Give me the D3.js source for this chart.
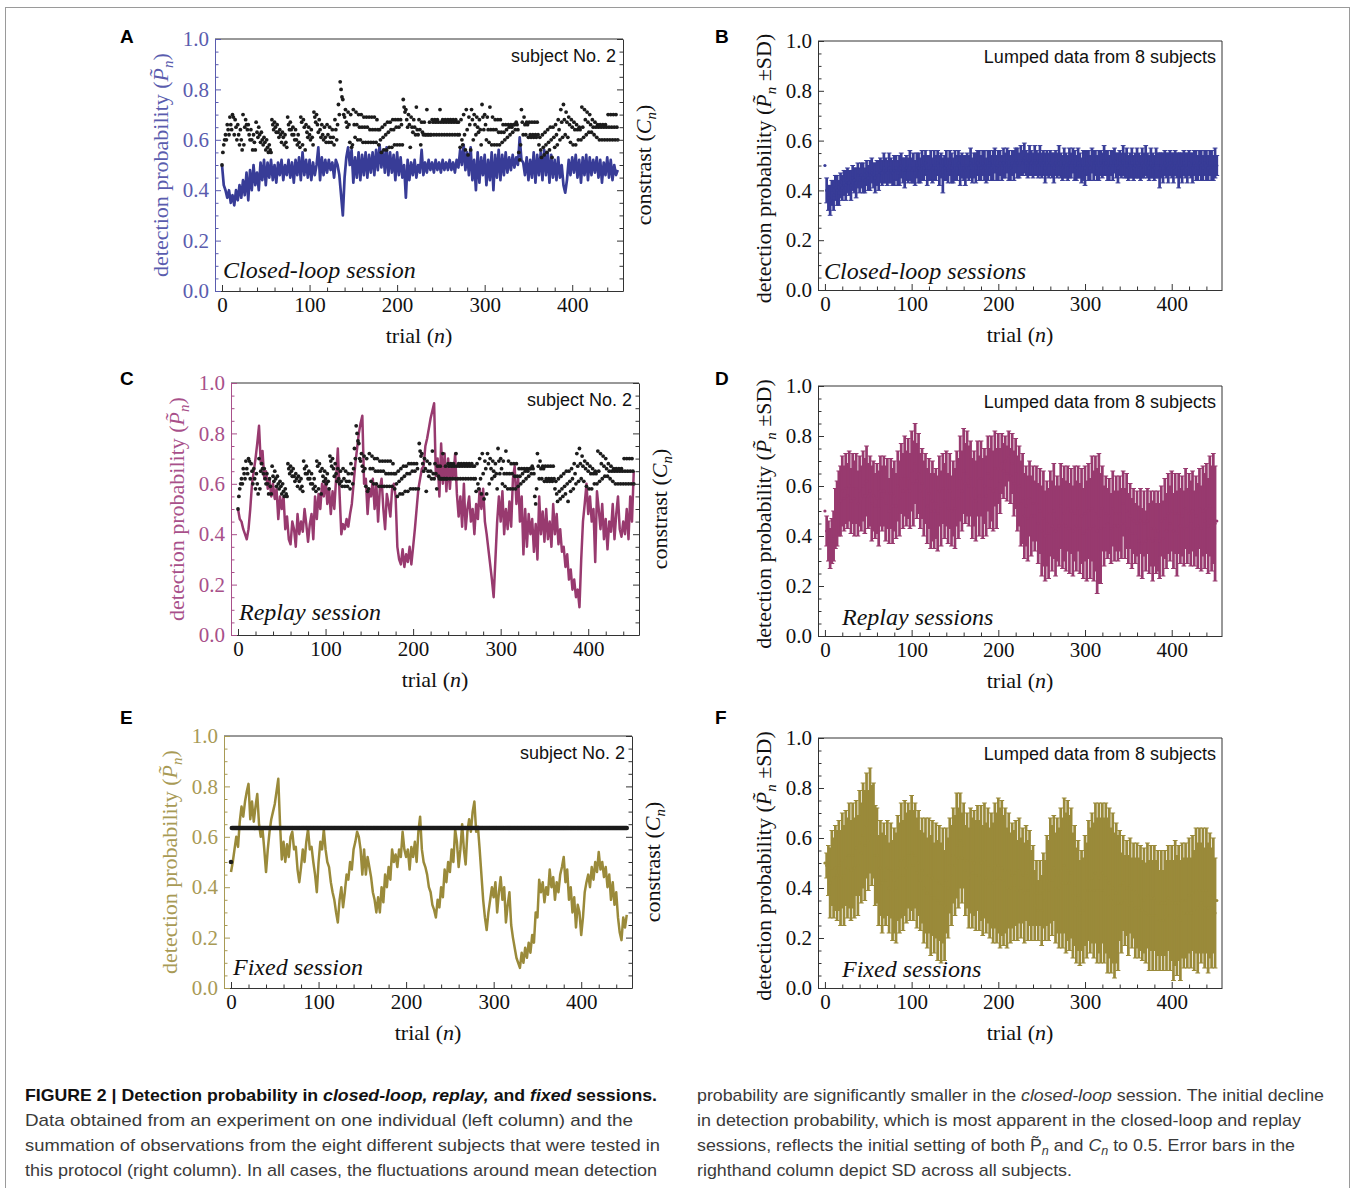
<!DOCTYPE html>
<html><head><meta charset="utf-8">
<script src="https://cdn.jsdelivr.net/npm/d3@7"></script>
<style>
body{margin:0;background:#fff;}
svg{display:block;font-family:"Liberation Serif",serif;}
</style></head><body>
<script>
// ---------------- DATA ----------------
const trialTicks = [0, 100, 200, 300, 400];
const probTicks = [0, 0.2, 0.4, 0.6, 0.8, 1.0];
const trialDomain = [-8, 458];
const nTrials = 452;
const sampledTrials = d3.range(0, nTrials + 1, 2); // series below are read every 2nd trial

// A: closed-loop session, subject No. 2 (detection probability)
const closedLoopSubject = [
.50,.42,.40,.37,.40,.35,.38,.34,.40,.36, .42,.37,.44,.38,.47,.36,.48,.40,.50,.42,
.47,.40,.51,.44,.52,.42,.51,.45,.52,.44, .50,.43,.51,.46,.52,.44,.50,.46,.52,.45,
.51,.43,.52,.46,.53,.44,.55,.46,.52,.45, .52,.44,.51,.46,.50,.57,.44,.53,.46,.52,
.47,.52,.48,.51,.45,.52,.50,.46,.38,.30, .45,.53,.57,.50,.56,.43,.53,.45,.55,.44,
.54,.46,.55,.45,.54,.47,.55,.46,.56,.48, .58,.49,.56,.47,.57,.46,.55,.47,.54,.44,
.55,.46,.53,.45,.50,.37,.52,.44,.51,.46, .52,.45,.50,.47,.56,.46,.51,.47,.52,.48,
.51,.47,.52,.48,.51,.47,.52,.48,.51,.48, .52,.48,.51,.47,.52,.49,.56,.50,.58,.48,
.55,.46,.57,.44,.52,.40,.55,.43,.53,.46, .54,.42,.52,.44,.55,.40,.54,.45,.56,.44,
.54,.46,.55,.47,.53,.48,.54,.49,.53,.50, .61,.52,.51,.46,.53,.44,.52,.45,.55,.43,
.54,.46,.55,.44,.56,.46,.55,.43,.54,.45, .52,.44,.53,.45,.50,.42,.39,.44,.52,.46,
.53,.47,.54,.45,.52,.43,.53,.46,.54,.44, .53,.46,.52,.47,.53,.45,.52,.43,.51,.46,
.53,.45,.52,.44,.50,.46,.48];

// contrast C_n (same sequence in closed-loop and replay), three interleaved tracks: trials 3i, 3i+1, 3i+2
const contrastTrack0 = [
.50,.60,.66,.69,.70,.68,.66,.64,.70,.68, .66,.64,.62,.67,.65,.63,.61,.60,.58,.68,
.67,.66,.64,.63,.62,.69,.67,.65,.64,.62, .69,.68,.66,.65,.64,.71,.70,.68,.66,.65,
.66,.65,.64,.68,.66,.83,.76,.72,.71,.70, .72,.71,.70,.70,.69,.69,.69,.69,.69,.68,
.64,.65,.66,.67,.67,.68,.68,.68,.68,.76, .72,.70,.69,.68,.73,.68,.67,.67,.72,.67,
.68,.68,.68,.72,.68,.68,.68,.68,.68,.68, .67,.68,.70,.72,.69,.72,.70,.69,.68,.74,
.70,.69,.73,.69,.68,.68,.68,.66,.66,.66, .66,.66,.67,.55,.72,.69,.67,.67,.67,.67,
.67,.61,.62,.63,.64,.65,.65,.66,.68,.72, .74,.71,.69,.68,.67,.66,.65,.73,.72,.71,
.70,.68,.67,.66,.66,.66,.66,.70,.70,.70, .70];
const contrastTrack1 = [
.55,.62,.64,.66,.69,.65,.62,.60,.58,.66, .62,.60,.59,.63,.62,.60,.59,.57,.56,.66,
.65,.63,.62,.61,.59,.66,.64,.62,.60,.59, .67,.65,.63,.62,.61,.69,.66,.64,.62,.61,
.62,.61,.61,.64,.74,.80,.70,.67,.66,.57, .66,.66,.65,.65,.65,.65,.64,.64,.64,.64,
.60,.61,.62,.63,.64,.64,.65,.65,.66,.73, .68,.66,.65,.65,.64,.64,.63,.62,.62,.62,
.67,.67,.67,.67,.67,.67,.67,.67,.67,.67, .62,.60,.62,.64,.66,.68,.66,.65,.64,.69,
.66,.64,.64,.64,.64,.63,.63,.63,.64,.65, .65,.66,.66,.52,.67,.66,.66,.62,.62,.62,
.62,.56,.57,.58,.59,.60,.61,.62,.64,.67, .68,.67,.66,.65,.64,.64,.64,.65,.68,.67,
.66,.65,.65,.65,.65,.65,.65,.65,.65,.65, .65];
const contrastTrack2 = [
.58,.60,.62,.64,.62,.60,.58,.56,.65,.64, .60,.56,.56,.61,.59,.58,.56,.55,.55,.64,
.63,.61,.59,.58,.57,.64,.62,.60,.58,.57, .58,.56,.61,.60,.58,.67,.63,.61,.60,.59,
.59,.59,.58,.60,.70,.77,.69,.65,.59,.58, .61,.60,.60,.59,.59,.59,.59,.59,.59,.58,
.55,.56,.56,.57,.57,.58,.58,.58,.58,.71, .65,.57,.63,.62,.62,.58,.62,.62,.62,.62,
.62,.62,.62,.62,.62,.62,.62,.62,.62,.62, .57,.58,.56,.54,.56,.60,.62,.63,.58,.64,
.60,.59,.58,.58,.58,.58,.59,.60,.61,.62, .63,.64,.64,.58,.62,.62,.61,.61,.61,.61,
.58,.53,.54,.55,.56,.53,.57,.58,.60,.61, .62,.61,.59,.58,.58,.60,.60,.61,.62,.63,
.63,.62,.61,.60,.60,.60,.60,.60,.60,.60, .60];

// C: replay session, subject No. 2
const replaySubject = [
.50,.46,.45,.42,.40,.38,.42,.50,.60,.65, .70,.76,.83,.68,.73,.62,.65,.58,.62,.55,
.60,.54,.58,.46,.55,.50,.55,.42,.47,.38, .36,.45,.42,.35,.48,.40,.45,.41,.50,.44,
.37,.44,.48,.38,.55,.46,.56,.50,.60,.55, .62,.52,.58,.48,.57,.50,.62,.74,.56,.40,
.44,.42,.46,.43,.48,.52,.60,.68,.74,.80, .84,.87,.60,.62,.48,.58,.55,.62,.50,.60,
.45,.58,.62,.50,.42,.56,.52,.47,.58,.60, .55,.35,.30,.28,.34,.27,.32,.29,.35,.28,
.35,.42,.50,.58,.62,.66,.67,.75,.78,.82, .86,.89,.92,.63,.70,.55,.76,.60,.72,.57,
.70,.58,.68,.62,.72,.56,.47,.55,.43,.60, .42,.50,.55,.45,.50,.40,.52,.46,.58,.50,
.58,.45,.40,.34,.28,.22,.15,.30,.45,.55, .45,.57,.40,.50,.42,.53,.43,.62,.67,.52,
.62,.45,.55,.32,.50,.35,.48,.40,.46,.33, .44,.30,.55,.40,.49,.37,.50,.38,.45,.35,
.52,.40,.48,.36,.42,.33,.35,.27,.32,.22, .26,.18,.22,.15,.18,.11,.30,.45,.52,.60,
.48,.55,.45,.50,.29,.57,.50,.42,.52,.38, .46,.34,.45,.41,.52,.38,.48,.55,.42,.39,
.45,.40,.50,.38,.55,.45,.65];

// E: fixed session, subject No. 2
const fixedSubject = [
.46,.50,.55,.60,.56,.66,.72,.68,.74,.78, .81,.67,.74,.66,.72,.77,.65,.60,.63,.55,
.46,.55,.62,.67,.70,.73,.78,.83,.65,.51, .58,.50,.57,.52,.60,.62,.55,.56,.47,.42,
.48,.55,.50,.58,.63,.55,.56,.50,.45,.38, .50,.58,.55,.63,.55,.50,.48,.42,.38,.35,
.30,.26,.35,.40,.32,.38,.45,.43,.50,.47, .55,.58,.62,.60,.55,.45,.55,.45,.52,.48,
.44,.38,.35,.30,.36,.30,.40,.34,.45,.40, .48,.43,.55,.50,.53,.48,.55,.52,.62,.55,
.52,.55,.47,.56,.52,.58,.50,.62,.68,.55, .50,.48,.45,.40,.38,.33,.31,.28,.35,.32,
.40,.36,.47,.42,.50,.46,.55,.50,.63,.58, .48,.55,.65,.55,.49,.62,.67,.62,.70,.74,
.62,.64,.55,.45,.35,.28,.23,.30,.35,.40, .36,.42,.30,.38,.44,.35,.40,.26,.33,.38,
.25,.20,.16,.12,.10,.08,.14,.10,.16,.12, .18,.14,.21,.18,.30,.28,.43,.38,.42,.34,
.40,.37,.47,.40,.44,.35,.42,.38,.45,.48, .52,.42,.47,.35,.40,.30,.36,.24,.33,.30,
.21,.28,.38,.42,.45,.40,.48,.43,.50,.46, .54,.47,.50,.44,.48,.40,.45,.35,.42,.33,
.38,.28,.22,.19,.28,.24,.29];
const fixedContrastLevel = 0.635;
const initialContrast = 0.5;

// B: closed-loop sessions, lumped 8 subjects (mean, SD)
const closedLoopMean = [
.50,.40,.37,.36,.39,.38,.41,.40,.39,.42, .41,.43,.42,.44,.43,.42,.45,.44,.43,.46,
.44,.46,.45,.44,.47,.45,.46,.48,.46,.45, .47,.46,.48,.47,.49,.48,.47,.49,.48,.47,
.48,.49,.47,.48,.50,.48,.47,.49,.48,.50, .48,.49,.47,.50,.49,.48,.50,.49,.51,.48,
.49,.50,.48,.50,.49,.51,.48,.50,.46,.49, .50,.48,.51,.49,.48,.50,.49,.51,.48,.50,
.49,.48,.50,.49,.51,.48,.50,.49,.51,.50, .49,.51,.50,.48,.50,.51,.49,.50,.52,.49,
.50,.51,.49,.51,.50,.52,.50,.49,.51,.50, .52,.51,.50,.52,.51,.53,.51,.50,.52,.51,
.50,.52,.51,.50,.52,.50,.51,.49,.51,.50, .51,.50,.49,.51,.50,.52,.50,.49,.51,.50,
.49,.51,.50,.52,.50,.49,.51,.50,.48,.50, .49,.51,.50,.49,.52,.50,.51,.49,.50,.51,
.50,.52,.51,.50,.49,.51,.50,.52,.50,.49, .51,.50,.52,.50,.51,.49,.50,.51,.49,.50,
.51,.50,.49,.51,.50,.52,.50,.49,.51,.50, .49,.51,.50,.48,.50,.49,.51,.50,.49,.51,
.50,.49,.51,.50,.48,.50,.49,.51,.50,.49, .51,.50,.49,.51,.50,.49,.51,.50,.49,.51,
.50,.49,.51,.50,.49,.51,.50];
const closedLoopSD = [
0,.05,.05,.06,.05,.06,.05,.06,.05,.05, .05,.05,.06,.05,.05,.06,.05,.05,.06,.05,
.05,.05,.06,.05,.05,.05,.06,.05,.05,.06, .05,.06,.05,.05,.06,.05,.05,.06,.05,.05,
.06,.05,.05,.06,.05,.05,.06,.05,.05,.06, .05,.06,.05,.05,.06,.05,.06,.05,.05,.06,
.05,.06,.05,.06,.05,.05,.06,.05,.07,.05, .06,.05,.05,.06,.05,.06,.05,.05,.06,.05,
.05,.06,.05,.05,.06,.05,.05,.06,.05,.06, .05,.05,.06,.05,.06,.05,.05,.06,.05,.05,
.06,.05,.05,.06,.05,.05,.06,.05,.05,.06, .05,.06,.05,.06,.05,.06,.05,.05,.06,.05,
.05,.06,.05,.05,.06,.05,.05,.06,.05,.05, .05,.05,.06,.05,.05,.06,.05,.05,.06,.05,
.05,.06,.05,.05,.06,.05,.06,.05,.05,.06, .07,.05,.06,.05,.05,.06,.05,.05,.06,.05,
.05,.06,.05,.06,.05,.05,.06,.05,.05,.06, .05,.05,.06,.05,.06,.05,.05,.06,.05,.05,
.06,.05,.05,.06,.05,.06,.05,.05,.06,.05, .05,.06,.05,.07,.05,.06,.05,.05,.06,.05,
.05,.06,.05,.05,.07,.05,.06,.05,.05,.06, .05,.05,.06,.05,.06,.05,.05,.06,.05,.05,
.06,.05,.05,.06,.05,.06,.04];

// D: replay sessions, lumped 8 subjects (mean, SD)
const replayMean = [
.50,.42,.38,.35,.38,.40,.47,.49,.53,.54, .58,.55,.59,.56,.60,.54,.59,.55,.59,.53,
.58,.55,.60,.56,.62,.56,.58,.53,.56,.52, .55,.51,.58,.55,.58,.53,.57,.50,.57,.52,
.56,.52,.60,.55,.63,.58,.64,.59,.63,.58, .66,.61,.69,.62,.65,.58,.61,.55,.59,.52,
.57,.50,.54,.50,.53,.49,.58,.51,.59,.54, .59,.51,.58,.50,.55,.51,.59,.55,.63,.58,
.66,.61,.65,.60,.63,.55,.59,.54,.63,.56, .63,.55,.60,.56,.65,.59,.63,.58,.67,.59,
.67,.62,.69,.66,.70,.65,.72,.64,.69,.61, .65,.57,.60,.53,.55,.48,.52,.47,.55,.48,
.53,.48,.53,.45,.50,.42,.47,.40,.45,.41, .49,.44,.50,.42,.47,.44,.52,.45,.49,.44,
.51,.43,.50,.42,.49,.44,.51,.43,.48,.41, .49,.42,.50,.43,.51,.44,.49,.42,.47,.43,
.51,.44,.49,.45,.48,.43,.51,.44,.49,.44, .49,.45,.53,.45,.50,.43,.48,.41,.46,.41,
.45,.38,.46,.37,.45,.38,.46,.39,.43,.38, .43,.39,.42,.38,.46,.39,.47,.42,.49,.45,
.50,.42,.49,.41,.49,.44,.48,.43,.51,.44, .49,.45,.50,.43,.48,.44,.51,.43,.50,.46,
.51,.44,.52,.47,.51,.45,.46];
const replaySD = [
0,.06,.08,.08,.09,.10,.12,.13,.13,.14, .14,.13,.14,.13,.14,.13,.14,.15,.14,.13,
.14,.13,.14,.15,.14,.13,.14,.15,.14,.13, .14,.15,.14,.13,.14,.15,.14,.13,.14,.15,
.14,.13,.14,.15,.14,.15,.16,.15,.16,.15, .16,.17,.16,.15,.16,.15,.14,.15,.14,.15,
.14,.15,.16,.15,.14,.15,.14,.15,.14,.15, .15,.14,.15,.14,.15,.16,.15,.16,.17,.16,
.17,.16,.17,.16,.15,.16,.15,.16,.15,.16, .15,.16,.15,.16,.15,.16,.17,.16,.15,.16,
.14,.13,.12,.11,.10,.11,.10,.11,.12,.13, .14,.15,.16,.17,.18,.17,.16,.17,.15,.16,
.15,.14,.15,.16,.17,.18,.19,.18,.17,.18, .17,.18,.19,.18,.17,.16,.17,.18,.19,.18,
.17,.18,.17,.18,.19,.18,.17,.18,.19,.18, .19,.20,.19,.20,.21,.22,.23,.25,.26,.22,
.17,.16,.15,.14,.15,.14,.15,.14,.15,.14, .15,.14,.13,.14,.15,.14,.13,.14,.13,.12,
.13,.14,.13,.14,.13,.12,.13,.14,.15,.16, .15,.14,.16,.15,.14,.15,.16,.15,.16,.15,
.16,.15,.16,.17,.16,.15,.16,.15,.16,.15, .16,.17,.16,.15,.16,.17,.16,.17,.18,.19,
.18,.19,.20,.21,.22,.23,0];

// F: fixed sessions, lumped 8 subjects (mean, SD)
const fixedMean = [
.50,.49,.47,.42,.48,.44,.48,.45,.49,.44, .51,.45,.52,.48,.53,.47,.53,.48,.56,.49,
.58,.54,.61,.57,.65,.59,.67,.61,.63,.53, .53,.43,.48,.42,.47,.43,.48,.40,.47,.39,
.43,.40,.48,.44,.51,.45,.52,.48,.53,.49, .54,.49,.53,.46,.50,.43,.47,.40,.45,.38,
.45,.37,.44,.36,.43,.35,.42,.34,.41,.33, .43,.40,.49,.45,.53,.49,.57,.52,.59,.52,
.57,.47,.51,.44,.51,.46,.50,.45,.52,.45, .50,.43,.51,.44,.49,.42,.47,.42,.49,.44,
.49,.44,.48,.43,.47,.40,.47,.40,.45,.41, .46,.39,.47,.40,.45,.38,.46,.39,.44,.37,
.41,.33,.38,.31,.38,.31,.39,.35,.43,.39, .47,.43,.48,.40,.45,.40,.47,.42,.49,.42,
.47,.42,.46,.37,.41,.33,.37,.30,.35,.31, .39,.35,.43,.39,.44,.39,.46,.39,.44,.39,
.46,.39,.44,.37,.42,.35,.40,.33,.38,.34, .41,.34,.42,.35,.40,.33,.41,.34,.39,.32,
.37,.32,.36,.31,.35,.30,.37,.29,.36,.29, .36,.29,.34,.27,.34,.27,.34,.29,.36,.29,
.34,.27,.34,.29,.34,.27,.35,.30,.35,.30, .37,.30,.38,.31,.39,.32,.39,.34,.39,.32,
.39,.32,.37,.32,.37,.30,.35];
const fixedSD = [
0,.05,.10,.14,.15,.16,.17,.18,.18,.19, .19,.20,.19,.20,.21,.20,.21,.20,.19,.20,
.21,.20,.21,.22,.21,.20,.21,.20,.19,.20, .19,.18,.19,.20,.19,.18,.19,.18,.19,.20,
.21,.22,.21,.22,.23,.22,.23,.22,.21,.22, .23,.22,.21,.22,.21,.20,.21,.22,.23,.22,
.23,.24,.23,.22,.23,.24,.23,.24,.23,.22, .21,.20,.19,.20,.19,.20,.21,.20,.19,.18,
.17,.18,.19,.20,.21,.22,.21,.22,.21,.22, .23,.22,.23,.22,.23,.22,.23,.24,.25,.26,
.27,.28,.27,.26,.25,.24,.23,.22,.21,.22, .21,.20,.21,.20,.19,.20,.19,.20,.19,.18,
.16,.14,.13,.12,.13,.14,.15,.16,.18,.20, .21,.22,.21,.22,.23,.24,.25,.26,.27,.28,
.28,.27,.26,.25,.24,.23,.22,.21,.20,.21, .22,.23,.24,.25,.26,.27,.28,.29,.30,.29,
.28,.29,.30,.31,.30,.29,.30,.29,.28,.27, .22,.20,.19,.18,.19,.20,.19,.18,.19,.20,
.21,.20,.21,.20,.21,.20,.21,.22,.21,.22, .21,.22,.21,.20,.21,.20,.21,.22,.21,.22,
.23,.24,.25,.24,.23,.24,.23,.22,.23,.22, .23,.22,.23,.24,.25,.26,.25,.24,.25,.24,
.25,.26,.25,.24,.23,.22,0];

// ---------------- RENDER ----------------
const W = 1354, H = 1188;
const svg = d3.select('body').append('svg').attr('width', W).attr('height', H);
svg.append('rect').attr('x', 5.5).attr('y', 7.5).attr('width', 1344).attr('height', 1200)
  .attr('fill', 'none').attr('stroke', '#9a9a9a').attr('stroke-width', 1);

const INK = '#333';
const trialMinorTicks = d3.range(20, 460, 20).filter(v => v % 100 !== 0);
const probMinorTicks = d3.range(1, 20).map(v => v / 20).filter((v, i) => (i + 1) % 4 !== 0);

const palette = {
  blue:    {line: '#383c97', text: '#5a5cae'},
  magenta: {line: '#983a6f', text: '#a8508a'},
  olive:   {line: '#9a8a3a', text: '#a89a55'}
};

const panels = [
  {id: 'A', left: 215, top: 39, width: 408, height: 252, kind: 'subject', col: 'blue', series: closedLoopSubject, contrast: 'tracks', session: 'Closed-loop session', sessDx: 8, sessDy: -13},
  {id: 'B', left: 818, top: 41, width: 404, height: 249, kind: 'lumped', col: 'blue', mean: closedLoopMean, sd: closedLoopSD, session: 'Closed-loop sessions', sessDx: 6, sessDy: -11},
  {id: 'C', left: 231, top: 383, width: 408, height: 252, kind: 'subject', col: 'magenta', series: replaySubject, contrast: 'tracks', session: 'Replay session', sessDx: 8, sessDy: -15},
  {id: 'D', left: 818, top: 386, width: 404, height: 250, kind: 'lumped', col: 'magenta', mean: replayMean, sd: replaySD, session: 'Replay sessions', sessDx: 24, sessDy: -11},
  {id: 'E', left: 224, top: 736, width: 408, height: 252, kind: 'subject', col: 'olive', series: fixedSubject, contrast: 'fixed', session: 'Fixed session', sessDx: 9, sessDy: -13},
  {id: 'F', left: 818, top: 738, width: 404, height: 250, kind: 'lumped', col: 'olive', mean: fixedMean, sd: fixedSD, session: 'Fixed sessions', sessDx: 24, sessDy: -11}
];

function styleAxis(sel, color, fontSize) {
  sel.attr('font-family', '"Liberation Serif", serif').attr('font-size', fontSize);
  sel.selectAll('path,line').attr('stroke', color).attr('stroke-width', 1);
  sel.selectAll('text').attr('fill', color);
}

function probLabel(t, withSD) {
  t.append('tspan').text('detection probability (');
  t.append('tspan').attr('font-style', 'italic').text('P\u0303');
  t.append('tspan').attr('font-style', 'italic').attr('font-size', 15).attr('dy', 5).text('n');
  t.append('tspan').attr('dy', -5).text(withSD ? ' \u00B1SD)' : ')');
}

panels.forEach(p => {
  const g = svg.append('g');
  const bottom = p.top + p.height, right = p.left + p.width;
  const x = d3.scaleLinear().domain(trialDomain).range([p.left, right]);
  const y = d3.scaleLinear().domain([0, 1]).range([bottom, p.top]);
  const pal = palette[p.col];
  const leftColor = p.kind === 'subject' ? pal.text : INK;

  // ---- data marks ----
  if (p.kind === 'subject') {
    const line = d3.line().x((d, i) => x(sampledTrials[i])).y(d => y(d));
    g.append('path').datum(p.series).attr('d', line).attr('fill', 'none')
      .attr('stroke', pal.line).attr('stroke-width', p.id === 'A' ? 2.7 : 2.5)
      .attr('stroke-linejoin', 'round');
    let dots;
    if (p.contrast === 'tracks') {
      dots = [];
      [contrastTrack0, contrastTrack1, contrastTrack2].forEach((tr, k) =>
        tr.forEach((v, i) => dots.push({t: 3 * i + k, v})));
    } else {
      dots = [{t: 0, v: initialContrast}].concat(d3.range(1, nTrials + 1).map(t => ({t, v: fixedContrastLevel})));
    }
    g.append('g').selectAll('circle').data(dots).join('circle')
      .attr('cx', d => x(d.t)).attr('cy', d => y(d.v)).attr('r', p.contrast === 'fixed' ? 2.3 : 1.9).attr('fill', '#1c1c1c');
  } else {
    const bars = p.mean.map((m, i) => ({t: sampledTrials[i], lo: m - p.sd[i], hi: m + p.sd[i], m}));
    const eb = g.append('g').attr('stroke', pal.line).attr('fill', 'none');
    eb.selectAll('line.v').data(bars).join('line').attr('class', 'v')
      .attr('x1', d => x(d.t)).attr('x2', d => x(d.t)).attr('y1', d => y(d.lo)).attr('y2', d => y(d.hi))
      .attr('stroke-width', 2.7);
    ['lo', 'hi'].forEach(k => {
      eb.selectAll('line.' + k).data(bars.filter(d => d.hi > d.lo)).join('line').attr('class', k)
        .attr('x1', d => x(d.t) - 2.4).attr('x2', d => x(d.t) + 2.4)
        .attr('y1', d => y(d[k])).attr('y2', d => y(d[k])).attr('stroke-width', 1);
    });
    g.append('g').selectAll('circle').data(bars).join('circle')
      .attr('cx', d => x(d.t)).attr('cy', d => y(d.m)).attr('r', 1.6).attr('fill', pal.line);
  }

  // ---- frame & axes ----
  g.append('line').attr('x1', p.left).attr('x2', right).attr('y1', p.top).attr('y2', p.top)
    .attr('stroke', INK).attr('stroke-width', 1);
  if (p.kind === 'lumped') {
    g.append('line').attr('x1', right).attr('x2', right).attr('y1', p.top).attr('y2', bottom)
      .attr('stroke', INK).attr('stroke-width', 1);
  } else {
    const ra = g.append('g').attr('transform', `translate(${right},0)`)
      .call(d3.axisRight(y).tickValues(probTicks).tickSizeInner(-6).tickSizeOuter(0).tickFormat(''));
    styleAxis(ra, INK, 21);
    const ram = g.append('g').attr('transform', `translate(${right},0)`)
      .call(d3.axisRight(y).tickValues(probMinorTicks).tickSizeInner(-3.5).tickSizeOuter(0).tickFormat(''));
    styleAxis(ram, INK, 21); ram.select('.domain').remove();
  }
  const bx = g.append('g').attr('transform', `translate(0,${bottom})`)
    .call(d3.axisBottom(x).tickValues(trialTicks).tickSizeInner(-6).tickSizeOuter(0).tickPadding(6).tickFormat(d3.format('d')));
  styleAxis(bx, INK, 21); bx.selectAll('text').attr('fill', '#111');
  const bxm = g.append('g').attr('transform', `translate(0,${bottom})`)
    .call(d3.axisBottom(x).tickValues(trialMinorTicks).tickSizeInner(-3.5).tickSizeOuter(0).tickFormat(''));
  styleAxis(bxm, INK, 21); bxm.select('.domain').remove();

  const ly = g.append('g').attr('transform', `translate(${p.left},0)`)
    .call(d3.axisLeft(y).tickValues(probTicks).tickSizeInner(-6).tickSizeOuter(0).tickPadding(6).tickFormat(d3.format('.1f')));
  styleAxis(ly, leftColor, 21);
  if (p.kind === 'lumped') ly.selectAll('text').attr('fill', '#111');
  const lym = g.append('g').attr('transform', `translate(${p.left},0)`)
    .call(d3.axisLeft(y).tickValues(probMinorTicks).tickSizeInner(-3.5).tickSizeOuter(0).tickFormat(''));
  styleAxis(lym, leftColor, 21); lym.select('.domain').remove();

  // ---- texts ----
  const cy = p.top + p.height / 2 + (p.kind === 'lumped' ? 3 : 0);
  const yl = g.append('text').attr('transform', `translate(${p.left - 47},${cy}) rotate(-90)`)
    .attr('text-anchor', 'middle').attr('font-size', 22)
    .attr('fill', p.kind === 'subject' ? pal.text : '#111');
  probLabel(yl, p.kind === 'lumped');

  if (p.kind === 'subject') {
    const rl = g.append('text').attr('transform', `translate(${right + 28},${p.top + p.height / 2}) rotate(-90)`)
      .attr('text-anchor', 'middle').attr('font-size', 22).attr('fill', '#111');
    rl.append('tspan').text('constrast (');
    rl.append('tspan').attr('font-style', 'italic').text('C');
    rl.append('tspan').attr('font-style', 'italic').attr('font-size', 15).attr('dy', 5).text('n');
    rl.append('tspan').attr('dy', -5).text(')');
  }

  const xl = g.append('text').attr('x', (p.left + right) / 2).attr('y', bottom + 52)
    .attr('text-anchor', 'middle').attr('font-size', 22).attr('fill', '#111');
  xl.append('tspan').text('trial (');
  xl.append('tspan').attr('font-style', 'italic').text('n');
  xl.append('tspan').text(')');

  g.append('text').attr('x', right - (p.kind === 'lumped' ? 6 : 7)).attr('y', p.top + (p.kind === 'lumped' ? 22 : 23))
    .attr('text-anchor', 'end').attr('font-family', '"Liberation Sans", Arial, sans-serif')
    .attr('font-size', 18).attr('fill', '#111')
    .text(p.kind === 'lumped' ? 'Lumped data from 8 subjects' : 'subject No. 2');

  g.append('text').attr('x', p.left + p.sessDx).attr('y', bottom + p.sessDy)
    .attr('font-size', 24).attr('font-style', 'italic').attr('fill', '#111').text(p.session);

  const letterX = p.left < 500 ? 120 : 715;
  const letterY = {A: 43, B: 43, C: 385, D: 385, E: 724, F: 724}[p.id];
  g.append('text').attr('x', letterX).attr('y', letterY)
    .attr('font-family', '"Liberation Sans", Arial, sans-serif').attr('font-weight', 'bold')
    .attr('font-size', 19).attr('fill', '#000').text(p.id);
});

// ---------------- CAPTION ----------------
const cap = svg.append('g').attr('font-family', '"Liberation Sans", Arial, sans-serif').attr('font-size', 17);
function capLine(xp, yp, len, parts, bold) {
  const t = cap.append('text').attr('x', xp).attr('y', yp)
    .attr('textLength', len).attr('lengthAdjust', 'spacingAndGlyphs')
    .attr('fill', bold ? '#111' : '#3a3a3a').attr('font-weight', bold ? 'bold' : 'normal');
  parts.forEach(pt => {
    const s = t.append('tspan').text(pt.s);
    if (pt.i) s.attr('font-style', 'italic');
    if (pt.dy) s.attr('dy', pt.dy);
    if (pt.fs) s.attr('font-size', pt.fs);
  });
}
capLine(25, 1101, 632, [{s: 'FIGURE 2 | Detection probability in '}, {s: 'closed-loop, replay,', i: 1}, {s: ' and '}, {s: 'fixed', i: 1}, {s: ' sessions.'}], true);
capLine(25, 1126, 608, [{s: 'Data obtained from an experiment on one individual (left column) and the'}]);
capLine(25, 1151, 635, [{s: 'summation of observations from the eight different subjects that were tested in'}]);
capLine(25, 1176, 632, [{s: 'this protocol (right column). In all cases, the fluctuations around mean detection'}]);
capLine(697, 1101, 627, [{s: 'probability are significantly smaller in the '}, {s: 'closed-loop', i: 1}, {s: ' session. The initial decline'}]);
capLine(697, 1126, 604, [{s: 'in detection probability, which is most apparent in the closed-loop and replay'}]);
capLine(697, 1151, 598, [{s: 'sessions, reflects the initial setting of both '}, {s: 'P\u0303'}, {s: 'n', i: 1, dy: 4, fs: 12}, {s: ' and ', dy: -4}, {s: 'C', i: 1}, {s: 'n', i: 1, dy: 4, fs: 12}, {s: ' to 0.5. Error bars in the', dy: -4}]);
capLine(697, 1176, 375, [{s: 'righthand column depict SD across all subjects.'}]);
</script>
</body></html>
